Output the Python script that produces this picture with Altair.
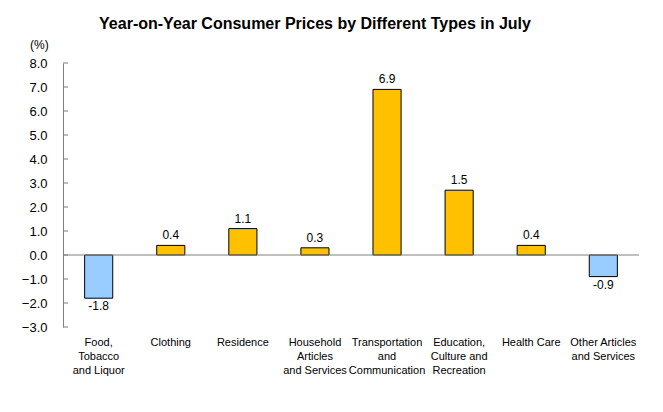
import altair as alt
import pandas as pd

categories = ["Food,\nTobacco\nand Liquor", "Clothing", "Residence",
              "Household\nArticles\nand Services", "Transportation\nand\nCommunication",
              "Education,\nCulture and\nRecreation", "Health Care",
              "Other Articles\nand Services"]
values = [-1.8, 0.4, 1.1, 0.3, 6.9, 2.7, 0.4, -0.9]
labels = ["-1.8", "0.4", "1.1", "0.3", "6.9", "1.5", "0.4", "-0.9"]
y_ticks = [-3, -2, -1, 0, 1, 2, 3, 4, 5, 6, 7, 8]

df = pd.DataFrame({"cat": categories, "val": values, "lab": labels})

FONT = "Liberation Sans"

x = alt.X("cat:N", sort=categories, title=None,
          scale=alt.Scale(paddingInner=0.61, paddingOuter=0.3),
          axis=alt.Axis(labelExpr="split(datum.label, '\\n')", labelAngle=0,
                        domain=False, ticks=False, labelPadding=9,
                        labelFont=FONT, labelFontSize=11, labelColor="#000000",
                        labelLineHeight=14, labelBaseline="top"))
yscale = alt.Scale(domain=[-3, 8], nice=False, zero=False)
yaxis = alt.Axis(values=y_ticks, format=".1f", grid=False,
                 labelOverlap=False, ticks=False,
                 domainColor="#808080",
                 labelFont=FONT, labelFontSize=13, labelColor="#000000",
                 labelPadding=16)
y = alt.Y("val:Q", title=None, scale=yscale, axis=yaxis)

base = alt.Chart(df)

bars = base.mark_bar(stroke="#000000", strokeWidth=1).encode(
    x=x, y=y, y2=alt.datum(0),
    color=alt.condition("datum.val >= 0", alt.value("#FFC000"), alt.value("#99CCFF")),
)

zero = alt.Chart(pd.DataFrame({"val": [0]})).mark_rule(color="#808080", strokeWidth=1).encode(
    y=y
)

ticks = alt.Chart(pd.DataFrame({"val": y_ticks})).mark_rule(color="#808080", strokeWidth=1).encode(
    y=y, x=alt.value(0), x2=alt.value(5)
)

txt_pos = base.transform_filter("datum.val >= 0").mark_text(
    baseline="bottom", dy=-3, font=FONT, fontSize=12, color="#000000"
).encode(x=x, y=y, text="lab:N")

txt_neg = base.transform_filter("datum.val < 0").mark_text(
    baseline="top", dy=3, font=FONT, fontSize=12, color="#000000"
).encode(x=x, y=y, text="lab:N")

unit = alt.Chart(pd.DataFrame({"t": ["(%)"]})).mark_text(
    align="left", baseline="middle", font=FONT, fontSize=12, color="#000000"
).encode(x=alt.value(-33), y=alt.value(-18), text="t:N")

chart = alt.layer(bars, zero, ticks, txt_pos, txt_neg, unit).properties(
    width=576, height=264,
    title=alt.TitleParams("Year-on-Year Consumer Prices by Different Types in July",
                          font=FONT, fontSize=16, fontWeight="bold", color="#000000",
                          anchor="middle", frame="group", offset=7, dx=-36),
    autosize=alt.AutoSizeParams(type="none"),
    padding={"left": 55, "top": 55, "right": 16, "bottom": 50},
).configure_view(stroke=None).configure_axis(labelOverlap=False)

chart.save("out.html", embed_options={"renderer": "svg", "actions": False})
